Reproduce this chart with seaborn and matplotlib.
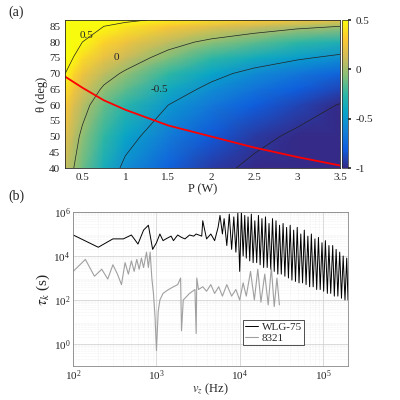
import numpy as np
import matplotlib
matplotlib.use("Agg")
import matplotlib.pyplot as plt
import seaborn as sns
from matplotlib.colors import LinearSegmentedColormap

sns.set_theme(style="white")
plt.rcParams['font.family'] = ['Liberation Serif', 'DejaVu Serif']
plt.rcParams['mathtext.fontset'] = 'stix'

# ---- panel (a) data ----
P_grid = [0.3, 0.4, 0.5, 0.75, 1, 1.5, 2, 2.5, 3, 3.5]
theta_grid = [40, 50, 60, 65, 70, 75, 80, 85, 87]
field = [
    [0.10, 0.00, -0.12, -0.35, -0.55, -0.78, -0.93, -1.05, -1.12, -1.18],
    [0.20, 0.07, -0.04, -0.25, -0.42, -0.65, -0.82, -0.94, -1.04, -1.10],
    [0.30, 0.17, 0.07, -0.13, -0.27, -0.50, -0.67, -0.80, -0.90, -1.01],
    [0.40, 0.26, 0.15, -0.03, -0.15, -0.38, -0.56, -0.69, -0.80, -0.89],
    [0.50, 0.36, 0.25, 0.08, -0.03, -0.25, -0.43, -0.57, -0.68, -0.77],
    [0.62, 0.49, 0.38, 0.22, 0.11, -0.08, -0.25, -0.37, -0.47, -0.55],
    [0.75, 0.61, 0.50, 0.35, 0.25, 0.08, -0.05, -0.15, -0.25, -0.32],
    [0.95, 0.80, 0.70, 0.50, 0.42, 0.30, 0.20, 0.12, 0.05, 0.00],
    [1.00, 0.88, 0.80, 0.62, 0.55, 0.45, 0.38, 0.32, 0.27, 0.22],
]
red_P = [0.3, 0.5, 0.75, 1, 1.5, 2, 2.5, 3, 3.5]
red_theta = [69, 65.5, 61.5, 58.5, 53.5, 50, 46.5, 43.5, 40.8]

# ---- panel (b) data ----
wlg_x = [100, 200, 300, 400, 500, 600, 700, 800, 900, 1000, 1100, 1200, 1300, 1500, 1600, 1800,
         2000, 2200, 2500, 2800, 3000, 3500, 3600, 4000, 4500, 5000, 5500, 5800, 6200, 6500, 7000,
         7500, 8000, 8500, 9000, 9500, 10000, 10500, 11000, 11500, 12000, 12600, 13200, 13800,
         14500, 15200, 16000, 16800, 17600, 18500, 19400, 20400, 21400, 22500, 23600, 24800,
         26000, 27300, 28700, 30100, 31600, 33200, 34900, 36600, 38500, 40400, 42400, 44500,
         46800, 49100, 51600, 54200, 56900, 59700, 62700, 65900, 69200, 72600, 76300, 80100,
         84100, 88300, 92700, 97400, 102000, 107000, 113000, 118000, 124000, 131000, 137000,
         144000, 151000, 159000, 167000, 175000, 184000, 193000, 200000]
wlg_y = [9e4, 2.5e4, 6e4, 6e4, 9e4, 3.5e4, 1.5e5, 2.5e5, 2e4, 4e4, 1e5, 5e4, 6e4, 8e4, 5e4, 9e4,
         7e4, 6e4, 9e4, 8e4, 1e5, 8e4, 4e5, 6e4, 1e5, 5e4, 2e5, 7e5, 1e5, 5e5, 3e4,
         8e5, 2e4, 6e5, 1.5e4, 9e5, 2e3, 9e5, 1e4, 7e5, 8e3, 6e5, 6e3, 8e5, 5e3, 4e5, 5e3, 7e5,
         4e3, 5e5, 3e3, 6e5, 3e3, 3e5, 2.5e3, 5e5, 2e3, 4e5, 1.5e3, 2.5e5, 1.5e3, 3e5, 1.2e3,
         2e5, 1e3, 2.5e5, 8e2, 1.5e5, 7e2, 2e5, 6e2, 1e5, 6e2, 1.5e5, 5e2, 8e4, 4e2, 1e5, 4e2,
         6e4, 3e2, 7e4, 3e2, 4e4, 2.5e2, 5e4, 2e2, 3e4, 2e2, 3e4, 1.5e2, 2e4, 1.5e2, 1.5e4,
         1.2e2, 1e4, 1e2, 8e3, 1e2]
g_x = [100, 140, 180, 220, 260, 300, 340, 380, 420, 460, 500, 540, 580, 620, 660, 700, 760, 800,
       840, 880, 920, 960, 1000, 1050, 1100, 1200, 1400, 1600, 1800, 1950, 2000, 2100, 2500, 2900,
       3000, 3050, 3200, 3600, 4000, 4500, 5000, 5600, 6200, 7000, 8000, 9000, 10000, 11000,
       12000, 13500, 15000, 16500, 18000, 20000, 22000, 24000, 26000, 28000, 30000]
g_y = [2e3, 7e3, 1.2e3, 2.5e3, 9e2, 4e3, 1.5e3, 5e2, 5e3, 1.5e3, 6e3, 2e3, 7e3, 2.5e3, 8e3, 3e3,
       1.5e4, 3e3, 1.5e4, 1e3, 2e2, 2e1, 0.5, 30, 1e2, 2e2, 3e2, 4e2, 5e2, 1e3, 4, 1e2, 2e2, 3e2,
       3, 1e3, 3e2, 4e2, 2.5e2, 5e2, 2e2, 4e2, 1.5e2, 5e2, 1.5e2, 3e2, 1e2, 6e2, 1.5e2, 2e3,
       1e2, 2.5e3, 80, 1.5e3, 60, 3e3, 50, 1e3, 60]

parula = LinearSegmentedColormap.from_list("parula", [
    "#352a87", "#0f5cdd", "#1481d6", "#06a4ca", "#2eb7a4",
    "#87bf77", "#d1bb59", "#fec832", "#f9fb0e"])

fig = plt.figure(figsize=(4, 4), dpi=100)
ax1 = fig.add_axes([0.163, 0.58, 0.687, 0.37])
cax = fig.add_axes([0.855, 0.58, 0.016, 0.37])
ax2 = fig.add_axes([0.183, 0.085, 0.687, 0.385])

PP, TT = np.meshgrid(P_grid, theta_grid)
Z = np.array(field)
m = ax1.pcolormesh(PP, TT, Z, cmap=parula, vmin=-1, vmax=0.5, shading='gouraud')
cs = ax1.contour(PP, TT, Z, levels=[-1, -0.5, 0, 0.5], colors='#222222', linewidths=0.5,
                 linestyles='solid')
ax1.plot(red_P, red_theta, color='red', lw=1.3)
ax1.text(0.55, 82, "0.5", fontsize=8, ha='center', va='center')
ax1.text(0.9, 75, "0", fontsize=8, ha='center', va='center')
ax1.text(1.4, 65, "-0.5", fontsize=8, ha='center', va='center')
ax1.set_xlim(0.3, 3.5)
ax1.set_ylim(40, 87)
ax1.set_xticks([0.5, 1, 1.5, 2, 2.5, 3, 3.5], ["0.5", "1", "1.5", "2", "2.5", "3", "3.5"])
ax1.set_yticks(range(40, 90, 5))
ax1.tick_params(labelsize=8, length=2, direction='in')
ax1.set_xlabel("P (W)", fontsize=9, labelpad=1)
ax1.set_ylabel("θ (deg)", fontsize=9, labelpad=1)
cb = fig.colorbar(m, cax=cax, ticks=[-1, -0.5, 0, 0.5])
cb.ax.set_yticklabels(["-1", "-0.5", "0", "0.5"])
cb.ax.tick_params(labelsize=8, length=2)
cb.outline.set_linewidth(0.5)
fig.text(0.02, 0.97, "(a)", fontsize=10, va='center')

ax2.plot(wlg_x, wlg_y, color='black', lw=0.7, label='WLG-75')
ax2.plot(g_x, g_y, color='#a0a0a0', lw=0.8, label='8321')
ax2.set_xscale('log')
ax2.set_yscale('log')
ax2.set_xlim(100, 2e5)
ax2.set_ylim(1e-1, 1e6)
ax2.set_yticks([1e0, 1e2, 1e4, 1e6])
ax2.grid(True, which='major', color='#cccccc', lw=0.5)
ax2.grid(True, which='minor', color='#e6e6e6', lw=0.4, ls=':')
ax2.tick_params(labelsize=8, length=2, direction='in', which='both', pad=2)
ax2.set_xlabel(r"$v_z$ (Hz)", fontsize=9, labelpad=-1)
ax2.set_ylabel(r"$\tau_k$ (s)", fontsize=11, labelpad=1)
for s in ax2.spines.values():
    s.set_color('#888888'); s.set_linewidth(0.6)
for s in ax1.spines.values():
    s.set_linewidth(0.6)
leg = ax2.legend(loc='lower right', bbox_to_anchor=(0.86, 0.1), fontsize=8, frameon=True,
                 fancybox=False, borderpad=0.2, handlelength=1.2, handletextpad=0.3,
                 labelspacing=0.1)
leg.get_frame().set_edgecolor('black'); leg.get_frame().set_linewidth(0.6)
fig.text(0.02, 0.51, "(b)", fontsize=10, va='center')

fig.savefig("out.png", dpi=100)
